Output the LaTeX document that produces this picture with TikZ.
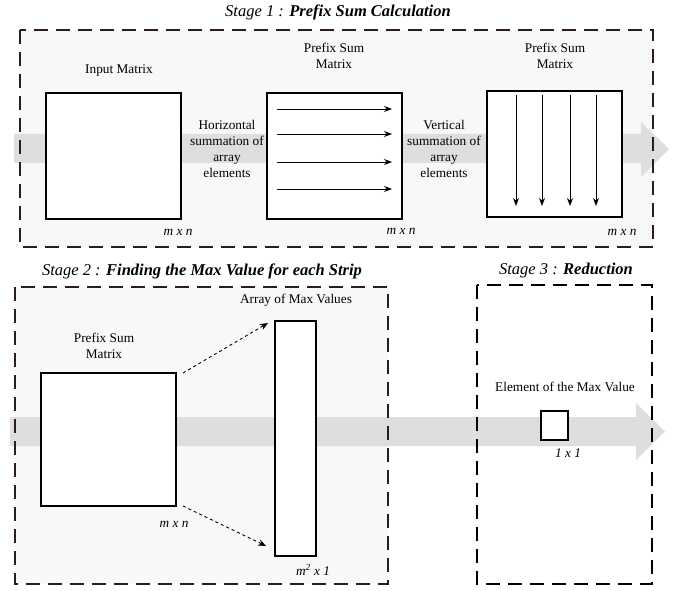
\documentclass[tikz,border=0pt]{standalone}
\usepackage{fontspec}
\setmainfont{Liberation Serif}
\usetikzlibrary{arrows.meta,positioning}
\definecolor{stagefill}{HTML}{F8F8F8}
\definecolor{flowgray}{HTML}{DEDEDE}
\definecolor{dashdark}{HTML}{2E1C1C}

\tikzset{
  stagebox/.style={draw=dashdark,line width=2pt,dash pattern=on 14pt off 8pt},
  matbox/.style={draw,fill=white,line width=1.5pt,inner sep=0pt,outer sep=0pt},
  lbl/.style={font=\fontsize{13.3}{16}\selectfont,align=center,inner sep=0pt},
  dimlbl/.style={font=\fontsize{13.3}{15}\selectfont\itshape,inner sep=0pt},
  stagetitle/.style={font=\fontsize{16.5}{18}\selectfont\itshape,inner sep=0pt},
  flow/.style={fill=flowgray},
  sumarrow/.style={-{Stealth[length=8pt,width=6pt]},line width=0.9pt},
  maparrow/.style={-{Stealth[length=8pt,width=6.5pt]},dashed,line width=0.9pt}
}

\begin{document}
\begin{tikzpicture}[x=1pt,y=-1pt]
    \useasboundingbox (0,0) rectangle (681,591);

    % stage 1
    \fill[stagefill] (20,30) rectangle (653,247);
    \fill[flow] (14,134) -- (641,134) -- (641,122) -- (669,149) -- (641,177)
        -- (641,163) -- (14,163) -- cycle;
    \draw[stagebox] (20,30) rectangle (653,247);
    \node[stagetitle] (title1) at (338,12) {Stage 1 : \textbf{Prefix Sum Calculation}};

    \node[matbox,minimum width=135pt,minimum height=126pt] (inmat) at (113.5,156) {};
    \node[matbox,minimum width=135pt,minimum height=126pt] (hmat) at (334.5,156) {};
    \node[matbox,minimum width=135pt,minimum height=126pt] (vmat) at (554.5,154) {};

    \node[lbl] (inlbl) at (119,71) {Input Matrix};
    \node[lbl] (hlbl) at (334,56) {Prefix Sum\\Matrix};
    \node[lbl] (vlbl) at (555,56) {Prefix Sum\\Matrix};

    \node[lbl] (htext) at (227,149) {Horizontal\\summation of\\array\\elements};
    \node[lbl] (vtext) at (444,149) {Vertical\\summation of\\array\\elements};

    \node[dimlbl] (indim) at (178,232) {m x n};
    \node[dimlbl] (hdim) at (401,231) {m x n};
    \node[dimlbl] (vdim) at (622,232) {m x n};

    \foreach \y in {109,134,162,189}
        \draw[sumarrow] (277,\y) -- (392,\y);
    \foreach \x in {516,542,570,596}
        \draw[sumarrow] (\x,95) -- (\x,206);

    % stage 2 and 3
    \fill[stagefill] (15,287) rectangle (388,584);
    \fill[flow] (10,417) -- (636,417) -- (636,403) -- (665,431.5) -- (636,460)
        -- (636,446) -- (10,446) -- cycle;
    \draw[stagebox] (15,287) rectangle (388,584);
    \draw[stagebox,draw=black] (477,285) rectangle (652,584);
    \node[stagetitle] (title2) at (202,271) {Stage 2 : \textbf{Finding the Max Value for each Strip}};
    \node[stagetitle] (title3) at (566,271) {Stage 3 : \textbf{Reduction}};

    \node[matbox,minimum width=135pt,minimum height=133pt] (psmat) at (108.5,439.5) {};
    \node[matbox,minimum width=41pt,minimum height=235pt] (maxarr) at (295.5,438.5) {};
    \node[matbox,minimum width=27pt,minimum height=29pt] (elem) at (554.5,425.5) {};

    \node[lbl] (pslbl) at (104,346) {Prefix Sum\\Matrix};
    \node[lbl] (arrlbl) at (296,300) {Array of Max Values};
    \node[lbl] (elemlbl) at (565,387) {Element of the Max Value};

    \node[dimlbl] (psdim) at (174,524) {m x n};
    \node[dimlbl] (arrdim) at (313,570) {m\textsuperscript{2} x 1};
    \node[dimlbl] (elemdim) at (568,453) {1 x 1};

    \draw[maparrow] ([xshift=7pt]psmat.north east) -- ([xshift=-7pt,yshift=-2pt]maxarr.north west);
    \draw[maparrow] ([xshift=7pt]psmat.south east) -- ([xshift=-9pt,yshift=10pt]maxarr.south west);
\end{tikzpicture}
\end{document}
